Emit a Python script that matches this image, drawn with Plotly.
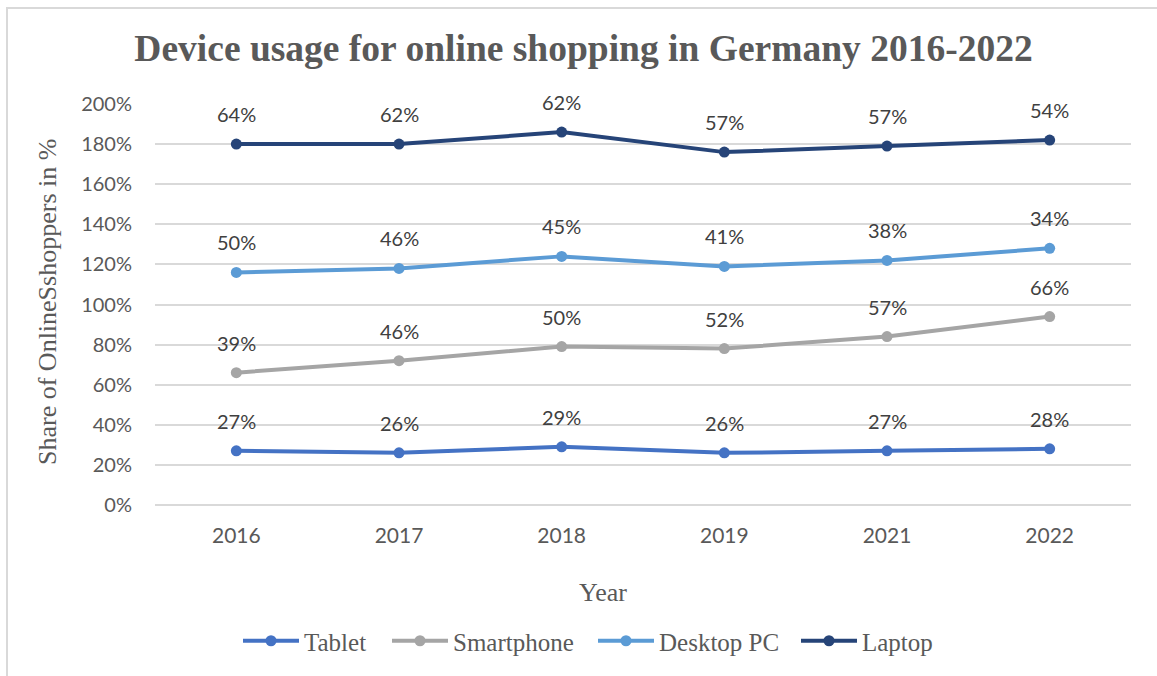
import numpy as np
import plotly.graph_objects as go

years = ["2016", "2017", "2018", "2019", "2021", "2022"]
tablet = [27, 26, 29, 26, 27, 28]
smartphone = [39, 46, 50, 52, 57, 66]
desktop = [50, 46, 45, 41, 38, 34]
laptop = [64, 62, 62, 57, 57, 54]
series_names = ["Tablet", "Smartphone", "Desktop PC", "Laptop"]
colors = ["#4472C4", "#A5A5A5", "#5B9BD5", "#264478"]

series = [tablet, smartphone, desktop, laptop]
cum = np.cumsum(np.array(series), axis=0)

W, H = 1157, 676
L, R, T, B = 155, 26, 104, 171
pw, ph = W - L - R, H - T - B

def px(x):
    return (x - L) / pw

def py(y):
    return (T + ph - y) / ph

legend_ids = ["legend", "legend2", "legend3", "legend4"]
legend_text_x = [304, 453, 659, 862]
ITEMW = 56

fig = go.Figure()
annotations = []
for name, vals, c, col, lid in zip(series_names, series, cum, colors, legend_ids):
    fig.add_trace(go.Scatter(
        x=years, y=c, name=name, mode="lines+markers",
        line=dict(color=col, width=4),
        marker=dict(color=col, size=11),
        cliponaxis=False, legend=lid,
    ))
    for i, (yv, v) in enumerate(zip(c, vals)):
        annotations.append(dict(
            x=i, y=float(yv), xref="x", yref="y", text=f"{v}%", showarrow=False,
            xanchor="center", yanchor="middle", yshift=30,
            font=dict(family="Lato", size=20, color="#404040")))

annotations += [
    dict(text="Year", xref="paper", yref="paper", x=px(603), y=py(592),
         showarrow=False, xanchor="center", yanchor="middle",
         font=dict(family="Liberation Serif", size=26, color="#595959")),
    dict(text="Share of OnlineSshoppers in %", xref="paper", yref="paper",
         x=px(47), y=py(302), textangle=-90, showarrow=False,
         xanchor="center", yanchor="middle",
         font=dict(family="Liberation Serif", size=26, color="#595959")),
]

legends = {}
for lid, tx in zip(legend_ids, legend_text_x):
    legends[lid] = dict(orientation="h", x=px(tx - ITEMW - 10), xanchor="left",
                        y=py(641), yanchor="middle", itemwidth=ITEMW,
                        font=dict(family="Liberation Serif", size=25, color="#595959"),
                        bgcolor="rgba(0,0,0,0)", borderwidth=0)

fig.update_layout(
    width=W, height=H,
    margin=dict(l=L, r=R, t=T, b=B),
    paper_bgcolor="white", plot_bgcolor="white",
    title=dict(text="<b>Device usage for online shopping in Germany 2016-2022</b>",
               x=583.5 / W, xanchor="center", y=1 - 48 / H, yanchor="middle",
               font=dict(family="Liberation Serif", size=37.5, color="#595959")),
    xaxis=dict(type="category", range=[-0.5, 5.5], showgrid=False, showline=False,
               ticks="", ticklabelstandoff=16,
               tickfont=dict(family="Lato", size=21, color="#595959")),
    yaxis=dict(range=[0, 200], dtick=20, ticksuffix="%", showgrid=True,
               gridcolor="#D9D9D9", gridwidth=1.5, zeroline=True, zerolinecolor="#D9D9D9",
               zerolinewidth=1.5, showline=False, ticks="", ticklen=0,
               ticklabelstandoff=22,
               tickfont=dict(family="Lato", size=20, color="#595959")),
    showlegend=True,
    annotations=annotations,
    shapes=[
        dict(type="line", xref="paper", yref="paper", x0=px(6), x1=px(1157),
             y0=py(8), y1=py(8), line=dict(color="#D9D9D9", width=2)),
        dict(type="line", xref="paper", yref="paper", x0=px(7), x1=px(7),
             y0=py(8), y1=py(676), line=dict(color="#D9D9D9", width=2)),
    ],
    **legends,
)

fig.write_html("out.html", post_script="document.body.style.margin='0';",
               config={"displayModeBar": False})
